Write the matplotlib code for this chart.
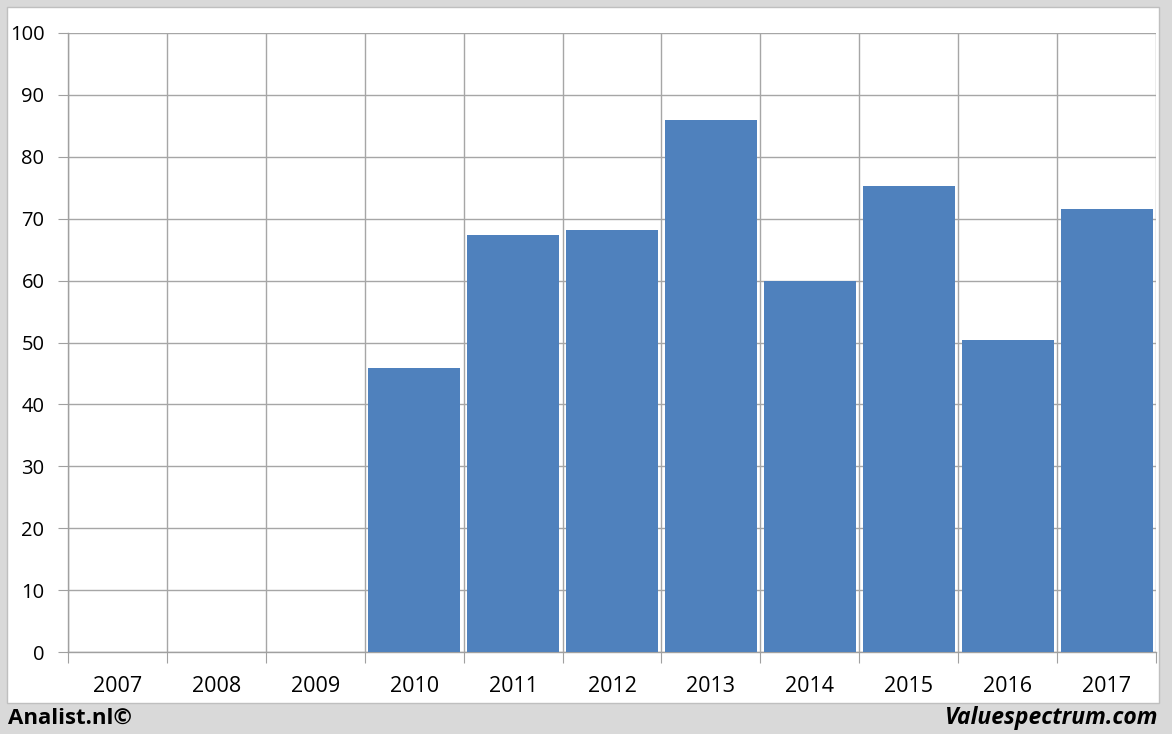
import matplotlib
matplotlib.use("Agg")
import matplotlib.pyplot as plt
from matplotlib.patches import Rectangle
import numpy as np

years = ["2007", "2008", "2009", "2010", "2011", "2012", "2013", "2014", "2015", "2016", "2017"]
values = [0, 0, 0, 45.8, 67.4, 68.2, 85.9, 59.9, 75.3, 50.4, 71.6]
yticks = [0, 10, 20, 30, 40, 50, 60, 70, 80, 90, 100]

W, H = 1172, 734
fig = plt.figure(figsize=(W / 100, H / 100), dpi=100)
fig.patch.set_facecolor("#d9d9d9")
fig.patches.append(Rectangle((7 / W, 1 - 703 / H), (1159 - 7) / W, (703 - 7) / H,
                             transform=fig.transFigure, facecolor="white",
                             edgecolor="#bfbfbf", linewidth=1, zorder=-5))

ax = fig.add_axes([68 / W, 1 - 652 / H, (1156 - 68) / W, (652 - 33) / H])
ax.set_zorder(2)
ax.set_facecolor("none")
font = "Open Sans"
x = np.arange(len(years))
ax.bar(x, values, width=0.93, color="#4f81bd", zorder=3)
ax.set_xlim(-0.5, len(years) - 0.5)
ax.set_ylim(0, 100)

ax.set_yticks(yticks)
ax.set_yticklabels([str(v) for v in yticks], fontsize=14.5, family=font)
ax.tick_params(axis="y", length=7, color="#a0a0a0", pad=10)

ax.set_xticks(np.arange(len(years) + 1) - 0.5)
ax.set_xticklabels([])
ax.set_xticks(x, minor=True)
ax.set_xticklabels(years, minor=True, fontsize=15.5, family=font)
ax.tick_params(axis="x", which="major", length=8, color="#a0a0a0")
ax.tick_params(axis="x", which="minor", length=0, pad=17)

ax.grid(True, which="major", color="#a6a6a6", linewidth=1, zorder=1)
ax.set_axisbelow(True)
for s in ["top", "right"]:
    ax.spines[s].set_visible(False)
for s in ["left", "bottom"]:
    ax.spines[s].set_color("#a0a0a0")
    ax.spines[s].set_linewidth(1)

fig.text(8 / W, 1 - 718 / H, "Analist.nl©", fontsize=16, fontweight="bold",
         family=font, va="center", ha="left")
fig.text(1158 / W, 1 - 718 / H, "Valuespectrum.com", fontsize=16.5, fontweight="bold",
         style="italic", family=font, va="center", ha="right")

fig.savefig("out.png", dpi=100, facecolor=fig.get_facecolor())
